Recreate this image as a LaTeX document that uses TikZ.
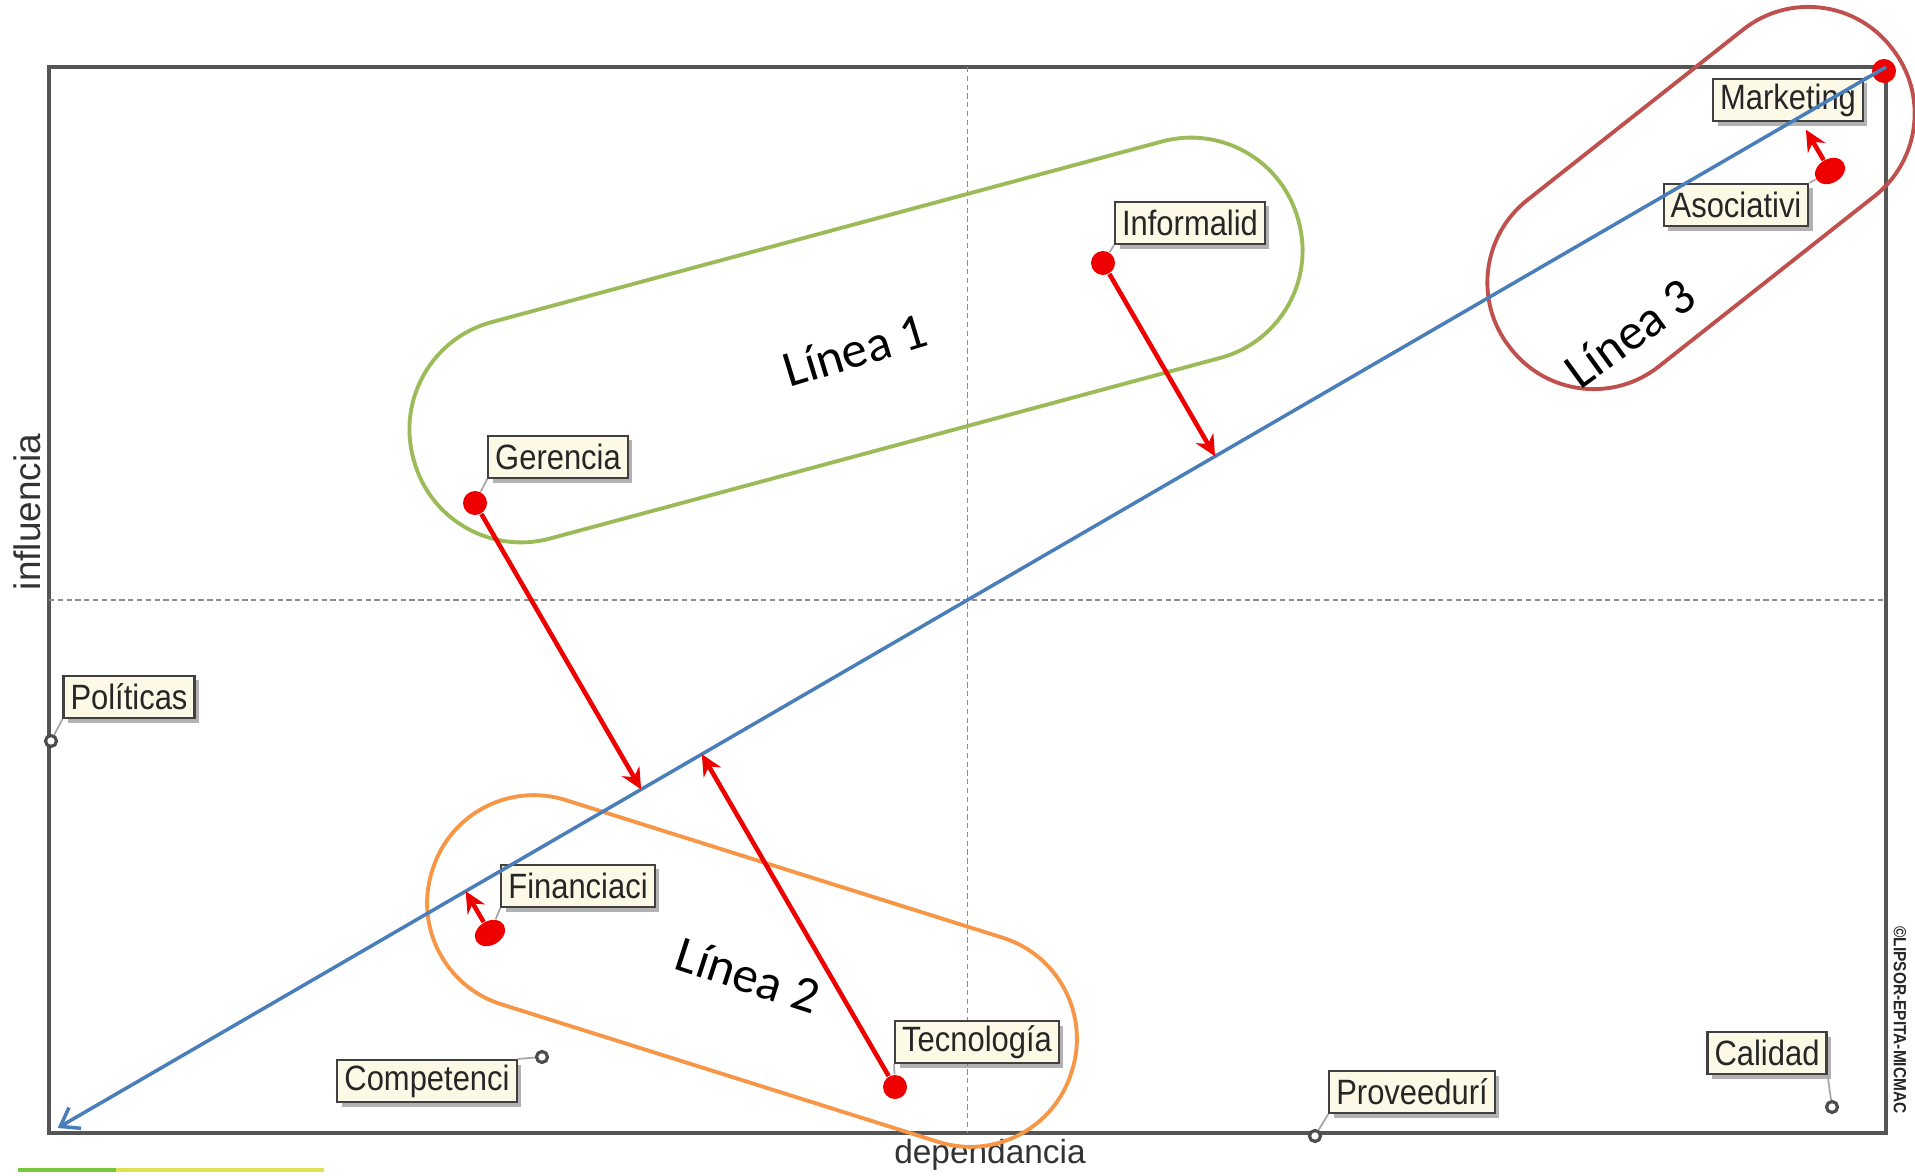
\documentclass[tikz,border=0pt]{standalone}
\usepackage{fontspec}
\setmainfont{Liberation Sans}
\newfontfamily\lblfont[FakeStretch=0.88]{Liberation Sans}
\newfontfamily\handfont{Carlito}
\usetikzlibrary{arrows.meta,calc,shadows,shapes.geometric}

\definecolor{boxfill}{RGB}{252,250,230}
\definecolor{lineblue}{RGB}{74,126,187}
\definecolor{grpgreen}{RGB}{155,187,89}
\definecolor{grporange}{RGB}{247,150,70}
\definecolor{grpred}{RGB}{192,80,77}
\definecolor{ptred}{RGB}{238,0,0}
\definecolor{framegray}{RGB}{85,85,85}
\definecolor{barleft}{RGB}{120,200,60}
\definecolor{barright}{RGB}{222,228,80}

\begin{document}
\begin{tikzpicture}[x=0.01cm,y=-0.01cm,
  varlabel/.style={draw=black!75, fill=boxfill, line width=0.6pt,
    inner xsep=0.07cm, inner ysep=0.04cm, minimum height=0.42cm,
    font=\lblfont\fontsize{10}{12}\selectfont, text=black!85,
    drop shadow={shadow xshift=0.045cm, shadow yshift=-0.045cm, fill=black!60}},
  reddot/.style={circle, fill=ptred, inner sep=0pt, minimum size=0.24cm},
  redpin/.style={ellipse, fill=ptred, inner sep=0pt, minimum width=0.32cm, minimum height=0.24cm},
  opendot/.style={circle, draw=black!70, fill=white, line width=0.9pt, inner sep=0pt, minimum size=0.11cm},
  leader/.style={draw=black!35, line width=0.5pt},
  shiftarrow/.style={draw=ptred, line width=1.3pt, -{Stealth[length=0.21cm,width=0.2cm]}},
  groupshape/.style={draw=#1, line width=1.1pt, inner sep=0pt},
  handtext/.style={font=\handfont\fontsize{14.5}{17}\selectfont, text=black},
  axistitle/.style={text=black!80, inner sep=1pt}]

% canvas and its bounds
\fill[white] (0,0) rectangle (1915,1176);
\useasboundingbox (0,0) rectangle (1915,1176);

% plot frame and the two centre lines
\coordinate (sw) at (49,1133);
\coordinate (ne) at (1886,67);
\coordinate (c) at ($(sw)!0.5!(ne)$);
\draw[framegray, line width=0.9pt] (sw) rectangle (ne);
\draw[black!45, line width=0.5pt, dash pattern=on 1.5pt off 1pt] (c|-ne) -- (c|-sw);
\draw[black!45, line width=0.5pt, dash pattern=on 1.5pt off 1pt] (sw|-c) -- (ne|-c);

% small colour strip under the plot
\draw[barleft, line width=1pt] (18,1170) -- (116,1170);
\draw[barright, line width=1pt] (116,1170) -- (324,1170);

% axis titles
\node[axistitle, rotate=90, font=\fontsize{10.5}{12}\selectfont] (ytitle) at (27,512) {influencia};
\node[axistitle, font=\fontsize{9.5}{11}\selectfont] (xtitle) at (990,1155) {dependancia};
\node[rotate=-90, inner sep=0pt, text=black!85, font=\lblfont\bfseries\fontsize{5}{6}\selectfont] (credit) at (1900,1020) {©LIPSOR-EPITA-MICMAC};

% variables: points
\node[reddot] (marketing) at (1884,71) {};
\node[redpin, rotate=30] (asociativi) at (1830,171) {};
\node[reddot] (informalid) at (1103,263) {};
\node[reddot] (gerencia) at (475,503) {};
\node[redpin, rotate=30] (financiaci) at (490,933) {};
\node[reddot] (tecnologia) at (895,1087) {};
\node[opendot] (politicas) at (51,741) {};
\node[opendot] (competenci) at (542,1057) {};
\node[opendot] (proveeduri) at (1315,1136) {};
\node[opendot] (calidad) at (1832,1107) {};

% variables: labels
\node[varlabel] (marketing-l) at (1788,100) {Marketing};
\node[varlabel] (asociativi-l) at (1736,205) {Asociativi};
\node[varlabel] (informalid-l) at (1190,223) {Informalid};
\node[varlabel] (gerencia-l) at (558,457) {Gerencia};
\node[varlabel] (financiaci-l) at (578,886) {Financiaci};
\node[varlabel] (tecnologia-l) at (977,1042) {Tecnología};
\node[varlabel] (competenci-l) at (427,1081) {Competenci};
\node[varlabel] (politicas-l) at (129,697) {Políticas};
\node[varlabel] (proveeduri-l) at (1412,1092) {Proveedurí};
\node[varlabel] (calidad-l) at (1767,1053) {Calidad};

% leaders from points to labels
\draw[leader] (marketing) -- (marketing-l.north east);
\draw[leader] (asociativi) -- (asociativi-l.north east);
\draw[leader] (informalid) -- (informalid-l.south west);
\draw[leader] (gerencia) -- (gerencia-l.south west);
\draw[leader] (financiaci) -- (financiaci-l.south west);
\draw[leader] (tecnologia) -- (tecnologia-l.south west);
\draw[leader] (politicas) -- (politicas-l.south west);
\draw[leader] (competenci) -- (competenci-l.north east);
\draw[leader] (proveeduri) -- (proveeduri-l.south west);
\draw[leader] (calidad) -- (calidad-l.south east);

% groups
\node[groupshape=grpgreen, rounded corners=1.11cm, minimum width=9.16cm, minimum height=2.24cm, rotate=15.08] (grupo1) at (856,340) {};
\node[groupshape=grporange, rounded corners=1.06cm, minimum width=6.70cm, minimum height=2.14cm, rotate=-17.48] (grupo2) at (752,971) {};
\node[groupshape=grpred, rounded corners=1.05cm, minimum width=4.85cm, minimum height=2.12cm, rotate=38.3] (grupo3) at (1701,198) {};

% main diagonal
\draw[lineblue, line width=1pt, shorten >=0.1cm, -{Straight Barb[length=0.17cm,width=0.24cm]}] (ne) -- (sw);

% displacement of each variable onto the diagonal
\coordinate (asociativi-p) at ($(sw)!(asociativi)!(ne)$);
\coordinate (informalid-p) at ($(sw)!(informalid)!(ne)$);
\coordinate (gerencia-p) at ($(sw)!(gerencia)!(ne)$);
\coordinate (financiaci-p) at ($(sw)!(financiaci)!(ne)$);
\coordinate (tecnologia-p) at ($(sw)!(tecnologia)!(ne)$);
\draw[shiftarrow, shorten >=0.14cm] (asociativi) -- (asociativi-p);
\draw[shiftarrow] (informalid) -- (informalid-p);
\draw[shiftarrow] (gerencia) -- (gerencia-p);
\draw[shiftarrow] (financiaci) -- (financiaci-p);
\draw[shiftarrow] (tecnologia) -- (tecnologia-p);

% group titles
\node[handtext, rotate=17] (grupo1-t) at (855,350) {Línea 1};
\node[handtext, rotate=-18] (grupo2-t) at (748,975) {Línea 2};
\node[handtext, rotate=36] (grupo3-t) at (1630,333) {Línea 3};

\end{tikzpicture}
\end{document}
